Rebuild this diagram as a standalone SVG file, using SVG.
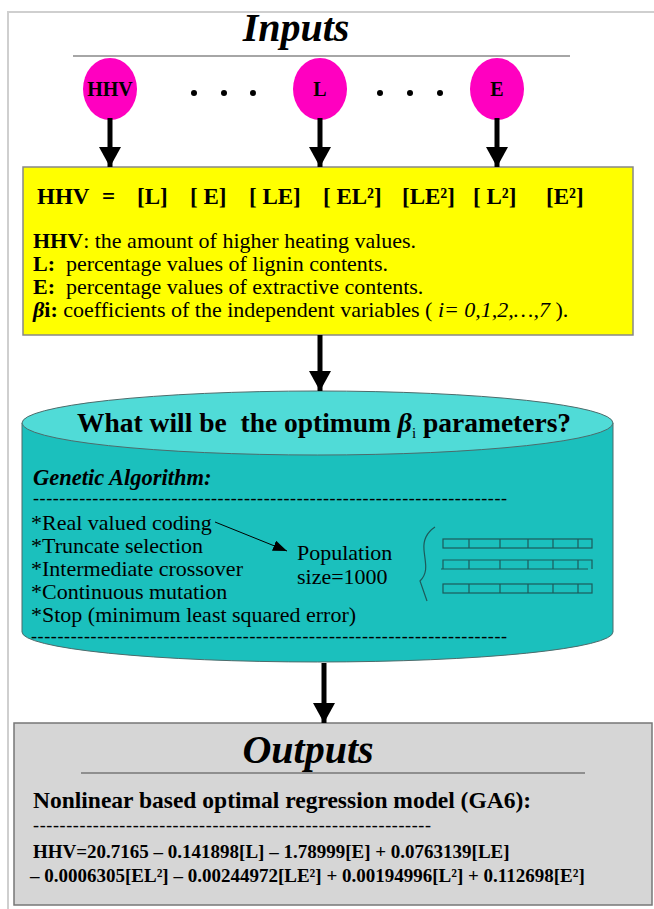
<svg xmlns="http://www.w3.org/2000/svg" width="654" height="909" viewBox="0 0 654 909">
<style>
.serif{font-family:"Liberation Serif","Times New Roman",serif;fill:#000}
.b{font-weight:bold}
.i{font-style:italic}
.circ{fill:#ff00c0;stroke:none}
.shaft{stroke:#000;stroke-width:5;fill:none}
.thin{stroke:#000;stroke-width:1;fill:none}
.bar{fill:none;stroke:#1d5a5a;stroke-width:1.2}
</style>
<defs>
<marker id="ah" markerUnits="userSpaceOnUse" markerWidth="22" markerHeight="26" refX="20" refY="11" orient="auto">
<path d="M0,0 L20,11 L0,22 Z" fill="#000"/>
</marker>
<marker id="ahs" markerUnits="userSpaceOnUse" markerWidth="16" markerHeight="12" refX="14" refY="5.5" orient="auto">
<path d="M0,0 L14,5.5 L0,11 Z" fill="#000"/>
</marker>
</defs>
<rect width="654" height="909" fill="#fff"/>
<path d="M8,925 L8,12 L670,12" fill="none" stroke="#cfcfcf" stroke-width="2"/>

<g id="inputs-title">
<text class="serif b i" x="296" y="41" font-size="40" text-anchor="middle">Inputs</text>
<line x1="73" y1="56" x2="570" y2="56" stroke="#888" stroke-width="1.5"/>
</g>

<g id="node-hhv">
<ellipse class="circ" cx="110" cy="89" rx="27" ry="31"/>
<text class="serif b" x="110" y="96" font-size="20" text-anchor="middle">HHV</text>
</g>
<g id="dots1">
<circle cx="194" cy="93" r="3" fill="#000"/><circle cx="224" cy="93" r="3" fill="#000"/><circle cx="253" cy="93" r="3" fill="#000"/>
</g>
<g id="node-l">
<ellipse class="circ" cx="320" cy="89" rx="27" ry="31"/>
<text class="serif b" x="320" y="96" font-size="20" text-anchor="middle">L</text>
</g>
<g id="dots2">
<circle cx="380" cy="93" r="3" fill="#000"/><circle cx="410" cy="93" r="3" fill="#000"/><circle cx="440" cy="93" r="3" fill="#000"/>
</g>
<g id="node-e">
<ellipse class="circ" cx="497" cy="89" rx="27" ry="31"/>
<text class="serif b" x="497" y="96" font-size="20" text-anchor="middle">E</text>
</g>

<g id="node-model">
<rect x="23" y="167" width="610" height="168" fill="#ffff00" stroke="#888" stroke-width="1.5"/>
<g class="serif b" font-size="23">
<text x="37" y="204">HHV</text>
<text x="102" y="204">=</text>
<text x="137" y="204">[L]</text>
<text x="190" y="204" xml:space="preserve">[ E]</text>
<text x="249" y="204" xml:space="preserve">[ LE]</text>
<text x="323" y="204" xml:space="preserve">[ EL²]</text>
<text x="402" y="204">[LE²]</text>
<text x="473" y="204" xml:space="preserve">[ L²]</text>
<text x="546" y="204">[E²]</text>
</g>
<text class="serif" x="33" y="248" font-size="22"><tspan class="b">HHV</tspan>: the amount of higher heating values.</text>
<text class="serif" x="33" y="271" font-size="22" xml:space="preserve"><tspan class="b">L:</tspan>  percentage values of lignin contents.</text>
<text class="serif" x="33" y="294" font-size="22" xml:space="preserve"><tspan class="b">E:</tspan>  percentage values of extractive contents.</text>
<text class="serif" x="33" y="317" font-size="22"><tspan class="b i">β</tspan><tspan class="b">i:</tspan> coefficients of the independent variables ( <tspan class="i">i= 0,1,2,…,7</tspan> ).</text>
</g>

<g id="node-ga">
<path d="M22,423 L22,632 A295.5,30 0 0 0 613,632 L613,423 Z" fill="#1bc0bd" stroke="#4d6b6b" stroke-width="1"/>
<ellipse cx="317.5" cy="423" rx="295.5" ry="32" fill="#50dbd7" stroke="#4d6b6b" stroke-width="1"/>
<text class="serif b" x="77" y="432" font-size="27.5" xml:space="preserve">What will be  the optimum <tspan class="i">β</tspan><tspan font-size="15" font-weight="normal" dy="6">i</tspan><tspan dy="-6"> parameters?</tspan></text>
<text class="serif b i" x="33" y="485" font-size="22.5">Genetic Algorithm:</text>
<text class="serif" x="33" y="504" font-size="18" textLength="474" lengthAdjust="spacing">------------------------------------------------------------------------</text>
<text class="serif" x="31" y="530" font-size="22">*Real valued coding</text>
<text class="serif" x="31" y="553" font-size="22">*Truncate selection</text>
<text class="serif" x="31" y="576" font-size="22">*Intermediate crossover</text>
<text class="serif" x="31" y="599" font-size="22">*Continuous mutation</text>
<text class="serif" x="31" y="622" font-size="22">*Stop (minimum least squared error)</text>
<text class="serif" x="31" y="642" font-size="18" textLength="476" lengthAdjust="spacing">------------------------------------------------------------------------</text>
<text class="serif" x="297" y="560" font-size="22">Population</text>
<text class="serif" x="297" y="584" font-size="22">size=1000</text>
<path d="M435,527 C426,533 423,540 424,550 C425,562 429,572 420,581 L427,601" class="bar"/>
<g class="bar">
<rect x="443" y="539" width="149" height="9"/>
<path d="M469,539 V548 M500,539 V548 M528,539 V548 M553,539 V548 M578,539 V548"/>
<path d="M443,569 V560 H592 V569 M441,569 H588 M469,560 V569 M500,560 V569 M528,560 V569 M553,560 V569 M578,560 V569"/>
<rect x="443" y="584" width="149" height="9"/>
<path d="M469,584 V593 M500,584 V593 M528,584 V593 M553,584 V593 M578,584 V593"/>
</g>
</g>

<g id="node-outputs">
<rect x="14" y="723" width="638" height="182" fill="#d6d6d6" stroke="#777" stroke-width="1.5"/>
<text class="serif b i" x="308" y="763" font-size="40" text-anchor="middle">Outputs</text>
<line x1="81" y1="773" x2="585" y2="773" stroke="#777" stroke-width="1.5"/>
<text class="serif b" x="33" y="808" font-size="23.5">Nonlinear based optimal regression model (GA6):</text>
<text class="serif" x="33" y="831" font-size="18" textLength="398" lengthAdjust="spacing">------------------------------------------------------------</text>
<text class="serif b" x="33" y="858" font-size="19">HHV=20.7165 – 0.141898[L] – 1.78999[E] + 0.0763139[LE]</text>
<text class="serif b" x="30" y="882" font-size="19">– 0.0006305[EL²] – 0.00244972[LE²] + 0.00194996[L²] + 0.112698[E²]</text>
</g>

<g id="connectors">
<line class="shaft" x1="110" y1="118" x2="110" y2="167" marker-end="url(#ah)"/>
<line class="shaft" x1="320" y1="118" x2="320" y2="167" marker-end="url(#ah)"/>
<line class="shaft" x1="497" y1="118" x2="497" y2="167" marker-end="url(#ah)"/>
<line class="shaft" x1="320" y1="335" x2="320" y2="391" marker-end="url(#ah)"/>
<line class="shaft" x1="324" y1="663" x2="324" y2="723" marker-end="url(#ah)"/>
<line class="thin" x1="215" y1="522" x2="287" y2="551" marker-end="url(#ahs)"/>
</g>
</svg>
